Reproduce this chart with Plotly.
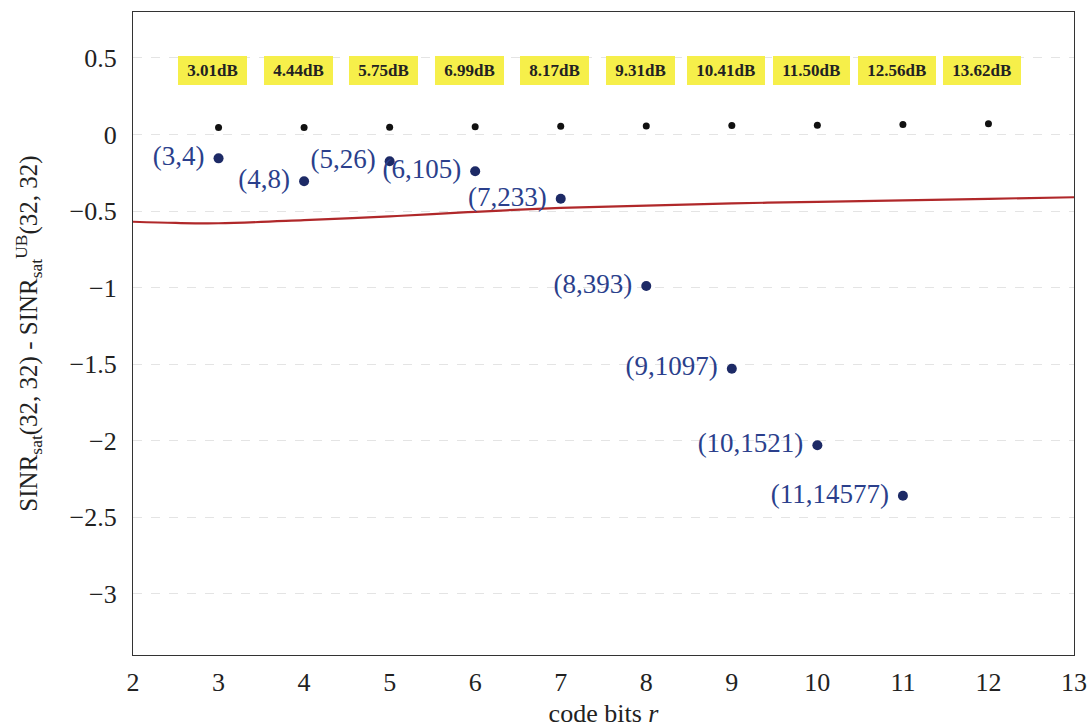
import plotly.graph_objects as go

# code bits r for the marked configurations
r_bits = [3, 4, 5, 6, 7, 8, 9, 10, 11, 12]
gain_db = ["3.01dB", "4.44dB", "5.75dB", "6.99dB", "8.17dB",
           "9.31dB", "10.41dB", "11.50dB", "12.56dB", "13.62dB"]
upper_gap = [0.045, 0.046, 0.048, 0.050, 0.053, 0.055, 0.058, 0.060, 0.065, 0.070]

# achieved points labelled (r, number of codewords)
r_found = [3, 4, 5, 6, 7, 8, 9, 10, 11]
gap_found = [-0.156, -0.305, -0.175, -0.24, -0.42, -0.99, -1.53, -2.03, -2.36]
found_labels = ["(3,4)", "(4,8)", "(5,26)", "(6,105)", "(7,233)",
                "(8,393)", "(9,1097)", "(10,1521)", "(11,14577)"]

# reference curve
r_curve = [2, 2.5, 3, 4, 5, 6, 7, 8, 9, 10, 11, 12, 13]
gap_curve = [-0.57, -0.578, -0.58, -0.56, -0.535, -0.505, -0.48,
             -0.465, -0.45, -0.44, -0.43, -0.42, -0.41]

label_y = 0.42
serif = "Liberation Serif, DejaVu Serif, serif"

fig = go.Figure()

fig.add_trace(go.Scatter(
    x=r_curve, y=gap_curve, mode="lines",
    line=dict(color="#b0282a", width=2.2, shape="spline"),
    hoverinfo="skip", showlegend=False))

fig.add_trace(go.Scatter(
    x=r_bits, y=upper_gap, mode="markers",
    marker=dict(color="#111111", size=7),
    showlegend=False))

fig.add_trace(go.Scatter(
    x=r_found, y=gap_found, mode="markers+text",
    marker=dict(color="#1d2a66", size=10),
    text=[t + " " for t in found_labels], textposition="middle left",
    textfont=dict(family=serif, size=27, color="#2b3f8c"),
    showlegend=False))

for xv, lbl in zip(r_bits, gain_db):
    fig.add_annotation(
        x=xv - 0.07, y=label_y, text="&nbsp;<b>" + lbl + "</b>&nbsp;", showarrow=False,
        font=dict(family=serif, size=17, color="#222222"),
        bgcolor="#f6ef4a", borderpad=4, bordercolor="#f6ef4a", borderwidth=1)

fig.update_layout(
    width=1091, height=728,
    margin=dict(l=133, r=17, t=12, b=73, autoexpand=False),
    paper_bgcolor="white", plot_bgcolor="white",
    font=dict(family=serif, color="#222222"),
)

fig.update_xaxes(
    range=[2, 13], dtick=1, tick0=2,
    showgrid=False, zeroline=False, automargin=False,
    showline=True, mirror=True, linecolor="#333333", linewidth=1.3,
    ticks="", ticklabelstandoff=4,
    tickfont=dict(family=serif, size=26, color="#222222"),
    title=dict(text="code bits <i>r</i>", font=dict(family=serif, size=26), standoff=8),
)

fig.update_yaxes(
    range=[-3.4, 0.8], dtick=0.5, tick0=0,
    showgrid=True, gridcolor="#e4e4e4", griddash="dash", gridwidth=1,
    zeroline=False, automargin=False,
    showline=True, mirror=True, linecolor="#333333", linewidth=1.3,
    ticks="", ticklabelstandoff=10,
    tickfont=dict(family=serif, size=26, color="#222222"),
    title=dict(text="SINR<sub>sat</sub>(32, 32) - SINR<sub>sat</sub><sup>UB</sup>(32, 32)",
               font=dict(family=serif, size=25), standoff=24),
)

fig.write_html("out.html")
